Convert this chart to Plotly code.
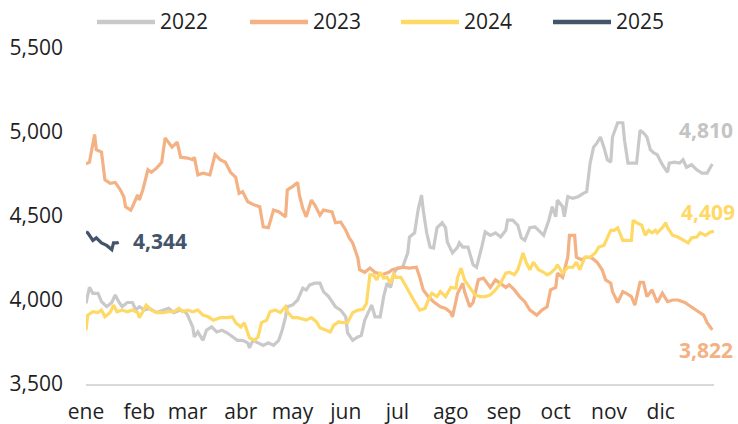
import plotly.graph_objects as go

# --- data: day of year (0 = 1 ene) and index level ---
days_2022 = [0, 2, 4, 7, 9, 12, 15, 17, 19, 21, 24, 27, 29, 31, 34, 37, 41, 45, 48, 51, 55, 58, 59, 62, 63, 65,
             68, 70, 73, 76, 79, 82, 85, 88, 91, 94, 95, 97, 100, 103, 106, 109, 112, 114, 116, 117, 120, 123,
             126, 128, 130, 133, 136, 138, 141, 143, 145, 148, 151, 152, 155, 158, 160, 162, 164, 166, 168, 171,
             173, 175, 177, 179, 181, 184, 187, 188, 191, 193, 195, 196, 198, 200, 202, 204, 207, 209, 210, 213,
             216, 217, 219, 222, 225, 227, 230, 232, 235, 238, 241, 244, 245, 248, 251, 253, 255, 258, 261, 264,
             266, 267, 269, 271, 273, 274, 277, 278, 280, 283, 286, 289, 291, 293, 295, 297, 299, 301, 303, 305,
             306, 309, 312, 313, 315, 318, 320, 322, 324, 326, 328, 330, 332, 335, 338, 339, 342, 345, 347, 349,
             352, 355, 358, 361, 364]
vals_2022 = [3980, 4075, 4040, 4040, 3990, 3960, 3985, 4030, 3990, 3960, 3985, 3985, 3940, 3960, 3940, 3950, 3925,
             3940, 3950, 3925, 3940, 3925, 3910, 3840, 3780, 3810, 3760, 3820, 3840, 3810, 3820, 3805, 3780, 3760,
             3760, 3745, 3715, 3760, 3745, 3730, 3745, 3730, 3760, 3820, 3900, 3960, 3970, 4000, 4070, 4060, 4090,
             4100, 4100, 4050, 4020, 3990, 3960, 3940, 3900, 3805, 3760, 3780, 3790, 3880, 3930, 3970, 3900, 3900,
             4020, 4100, 4075, 4160, 4190, 4195, 4280, 4375, 4400, 4535, 4625, 4535, 4400, 4315, 4310, 4430, 4460,
             4430, 4345, 4280, 4315, 4340, 4315, 4315, 4210, 4195, 4315, 4405, 4385, 4400, 4375, 4415, 4475, 4475,
             4445, 4370, 4355, 4430, 4435, 4405, 4385, 4415, 4475, 4555, 4495, 4595, 4555, 4495, 4615, 4605, 4615,
             4635, 4645, 4815, 4910, 4935, 4970, 4910, 4835, 4820, 4970, 5055, 5055, 4950, 4815, 4815, 4815, 5010,
             4995, 4970, 4895, 4875, 4865, 4805, 4760, 4815, 4820, 4815, 4835, 4790, 4805, 4775, 4755, 4755, 4810]

days_2023 = [0, 2, 5, 6, 9, 11, 14, 17, 20, 22, 23, 26, 27, 30, 31, 33, 36, 38, 41, 44, 46, 48, 50, 53, 55, 59,
             62, 63, 65, 68, 72, 75, 78, 81, 84, 87, 89, 91, 94, 98, 101, 103, 106, 109, 112, 116, 117, 120, 123,
             124, 126, 128, 131, 133, 136, 138, 143, 145, 148, 151, 153, 155, 158, 159, 162, 165, 168, 172, 176,
             178, 181, 184, 188, 192, 194, 196, 199, 202, 206, 209, 212, 213, 216, 219, 220, 223, 225, 228, 231,
             235, 238, 241, 244, 246, 249, 252, 255, 258, 262, 265, 268, 270, 273, 274, 277, 280, 281, 284, 285,
             288, 291, 294, 297, 300, 302, 305, 306, 309, 312, 314, 317, 319, 322, 324, 326, 329, 332, 335, 338,
             341, 344, 348, 352, 356, 359, 361, 364]
vals_2023 = [4810, 4820, 4985, 4895, 4880, 4715, 4695, 4700, 4655, 4615, 4555, 4535, 4555, 4625, 4595, 4655, 4775,
             4760, 4785, 4820, 4965, 4935, 4910, 4940, 4850, 4845, 4835, 4850, 4745, 4755, 4745, 4865, 4835, 4820,
             4760, 4730, 4635, 4645, 4585, 4565, 4555, 4435, 4430, 4535, 4525, 4495, 4655, 4675, 4700, 4625, 4545,
             4495, 4595, 4565, 4505, 4535, 4525, 4460, 4465, 4415, 4370, 4340, 4250, 4180, 4165, 4190, 4165, 4150,
             4165, 4180, 4190, 4195, 4190, 4195, 4135, 4060, 4020, 3990, 3960, 3950, 3925, 3900, 4040, 4100, 4050,
             3960, 3985, 4120, 4130, 4075, 4120, 4100, 4075, 4090, 4060, 4020, 3990, 3940, 3910, 3940, 3960, 4060,
             4075, 4160, 4135, 4255, 4385, 4385, 4255, 4240, 4255, 4250, 4225, 4180, 4120, 4100, 4050, 3985, 4050,
             4040, 4020, 3970, 4105, 4105, 4020, 4060, 3985, 4040, 3990, 4000, 4000, 3985, 3955, 3930, 3910, 3865,
             3822]

days_2024 = [0, 1, 4, 7, 9, 11, 14, 16, 18, 21, 24, 27, 30, 31, 33, 35, 38, 41, 45, 48, 51, 54, 56, 59, 62, 65,
             68, 71, 74, 78, 82, 85, 87, 90, 92, 95, 98, 100, 102, 105, 107, 110, 113, 116, 117, 120, 123, 126,
             128, 131, 134, 136, 139, 142, 144, 147, 149, 152, 155, 158, 161, 163, 165, 167, 169, 171, 173, 175,
             177, 179, 180, 183, 185, 188, 191, 194, 197, 199, 201, 204, 206, 209, 212, 215, 216, 218, 220, 223,
             226, 229, 232, 235, 238, 241, 244, 246, 249, 251, 254, 256, 258, 260, 263, 266, 268, 270, 273, 274,
             277, 280, 283, 285, 287, 290, 293, 296, 298, 301, 303, 305, 307, 309, 312, 314, 317, 318, 320, 323,
             325, 327, 329, 331, 332, 335, 337, 338, 341, 344, 347, 350, 352, 355, 357, 360, 363, 365]
vals_2024 = [3820, 3910, 3930, 3925, 3940, 3900, 3925, 3970, 3930, 3940, 3930, 3940, 3925, 3895, 3930, 3970, 3940,
             3925, 3925, 3930, 3930, 3950, 3930, 3940, 3930, 3940, 3910, 3900, 3880, 3895, 3895, 3900, 3865, 3840,
             3865, 3775, 3760, 3780, 3865, 3880, 3930, 3940, 3925, 3960, 3930, 3895, 3895, 3885, 3880, 3895, 3870,
             3835, 3820, 3810, 3850, 3870, 3865, 3865, 3925, 3940, 3945, 3980, 4150, 4150, 4120, 4165, 4130, 4135,
             4100, 4160, 4135, 4135, 4100, 4040, 3990, 3940, 3950, 4000, 4040, 4020, 4050, 4020, 4075, 4070, 4135,
             4190, 4120, 4075, 4030, 4020, 4020, 4030, 4060, 4100, 4160, 4165, 4150, 4180, 4280, 4220, 4180, 4225,
             4180, 4165, 4150, 4160, 4190, 4210, 4160, 4195, 4195, 4225, 4180, 4255, 4255, 4280, 4315, 4325, 4370,
             4415, 4415, 4430, 4355, 4355, 4355, 4475, 4460, 4445, 4385, 4415, 4400, 4415, 4400, 4430, 4460, 4430,
             4385, 4375, 4355, 4340, 4370, 4375, 4400, 4385, 4405, 4409]

days_2025 = [0, 1, 4, 6, 9, 12, 15, 16, 18, 19]
vals_2025 = [4405, 4400, 4355, 4370, 4340, 4325, 4300, 4340, 4340, 4344]

years = ['2022', '2023', '2024', '2025']
colors = ['#C9C9C9', '#F4B183', '#FFD966', '#44546A']
label_colors = ['#C4C4C4', '#F4B183', '#FFD966', '#44546A']

month_starts = [0, 31, 59, 90, 120, 151, 181, 212, 243, 273, 304, 334]
month_names = ['ene', 'feb', 'mar', 'abr', 'may', 'jun', 'jul', 'ago', 'sep', 'oct', 'nov', 'dic']

series = [(days_2022, vals_2022), (days_2023, vals_2023), (days_2024, vals_2024), (days_2025, vals_2025)]

FONT = 'Open Sans'
FS = 21
W, H = 738, 424
L, R, T, B = 86, 24, 48, 40

fig = go.Figure()
for (d, v), yr, c in zip(series, years, colors):
    fig.add_trace(go.Scatter(x=d, y=v, mode='lines', name=yr, showlegend=False,
                             line=dict(color=c, width=3.2)))

# end-of-series value labels
anns = []
for (d, v), c, dy in [(series[0], label_colors[0], 34), (series[2], label_colors[2], 19),
                      (series[1], label_colors[1], -20)]:
    anns.append(dict(x=d[-1], y=v[-1], text=f'<b>{v[-1]:,}</b>', showarrow=False,
                     xanchor='right', xshift=22, yshift=dy, borderpad=0,
                     font=dict(family=FONT, size=FS, color=c)))
anns.append(dict(x=days_2025[-1], y=vals_2025[-1], text=f'<b>{vals_2025[-1]:,}</b>', showarrow=False,
                 xanchor='left', xshift=13, yshift=1, borderpad=0,
                 font=dict(family=FONT, size=FS, color=label_colors[3])))

# custom legend across the top
pw = W - L - R
ph = H - T - B
def px_x(p):
    return (p - L) / pw
def px_y(p):
    return (H - B - p) / ph

shapes = []
leg_starts = [97, 250, 401, 553]
for x0, yr, c in zip(leg_starts, years, colors):
    shapes.append(dict(type='line', xref='paper', yref='paper',
                       x0=px_x(x0), x1=px_x(x0 + 58), y0=px_y(22), y1=px_y(22),
                       line=dict(color=c, width=4.5)))
    anns.append(dict(xref='paper', yref='paper', x=px_x(x0 + 62), y=px_y(21), text=yr,
                     showarrow=False, xanchor='left', yanchor='middle', borderpad=0,
                     font=dict(family=FONT, size=FS, color='#1F1F1F')))

fig.update_layout(
    width=W, height=H,
    margin=dict(l=L, r=R, t=T, b=B),
    paper_bgcolor='white', plot_bgcolor='white',
    font=dict(family=FONT, size=FS, color='#1F1F1F'),
    annotations=anns, shapes=shapes,
    xaxis=dict(range=[0, 365], tickvals=month_starts, ticktext=month_names, automargin=False,
               showgrid=False, zeroline=False, showline=True, linecolor='#D9D9D9', linewidth=1.5,
               ticks='', ticklabelstandoff=8, tickfont=dict(size=FS)),
    yaxis=dict(range=[3500, 5500], tickvals=[3500, 4000, 4500, 5000, 5500], tickformat=',',
               automargin=False, showgrid=False, zeroline=False, showline=False, ticks='',
               ticklabelstandoff=22, tickfont=dict(size=FS)),
)

fig.write_html('out.html', config={'displayModeBar': False},
               post_script="document.body.style.margin='0';")
